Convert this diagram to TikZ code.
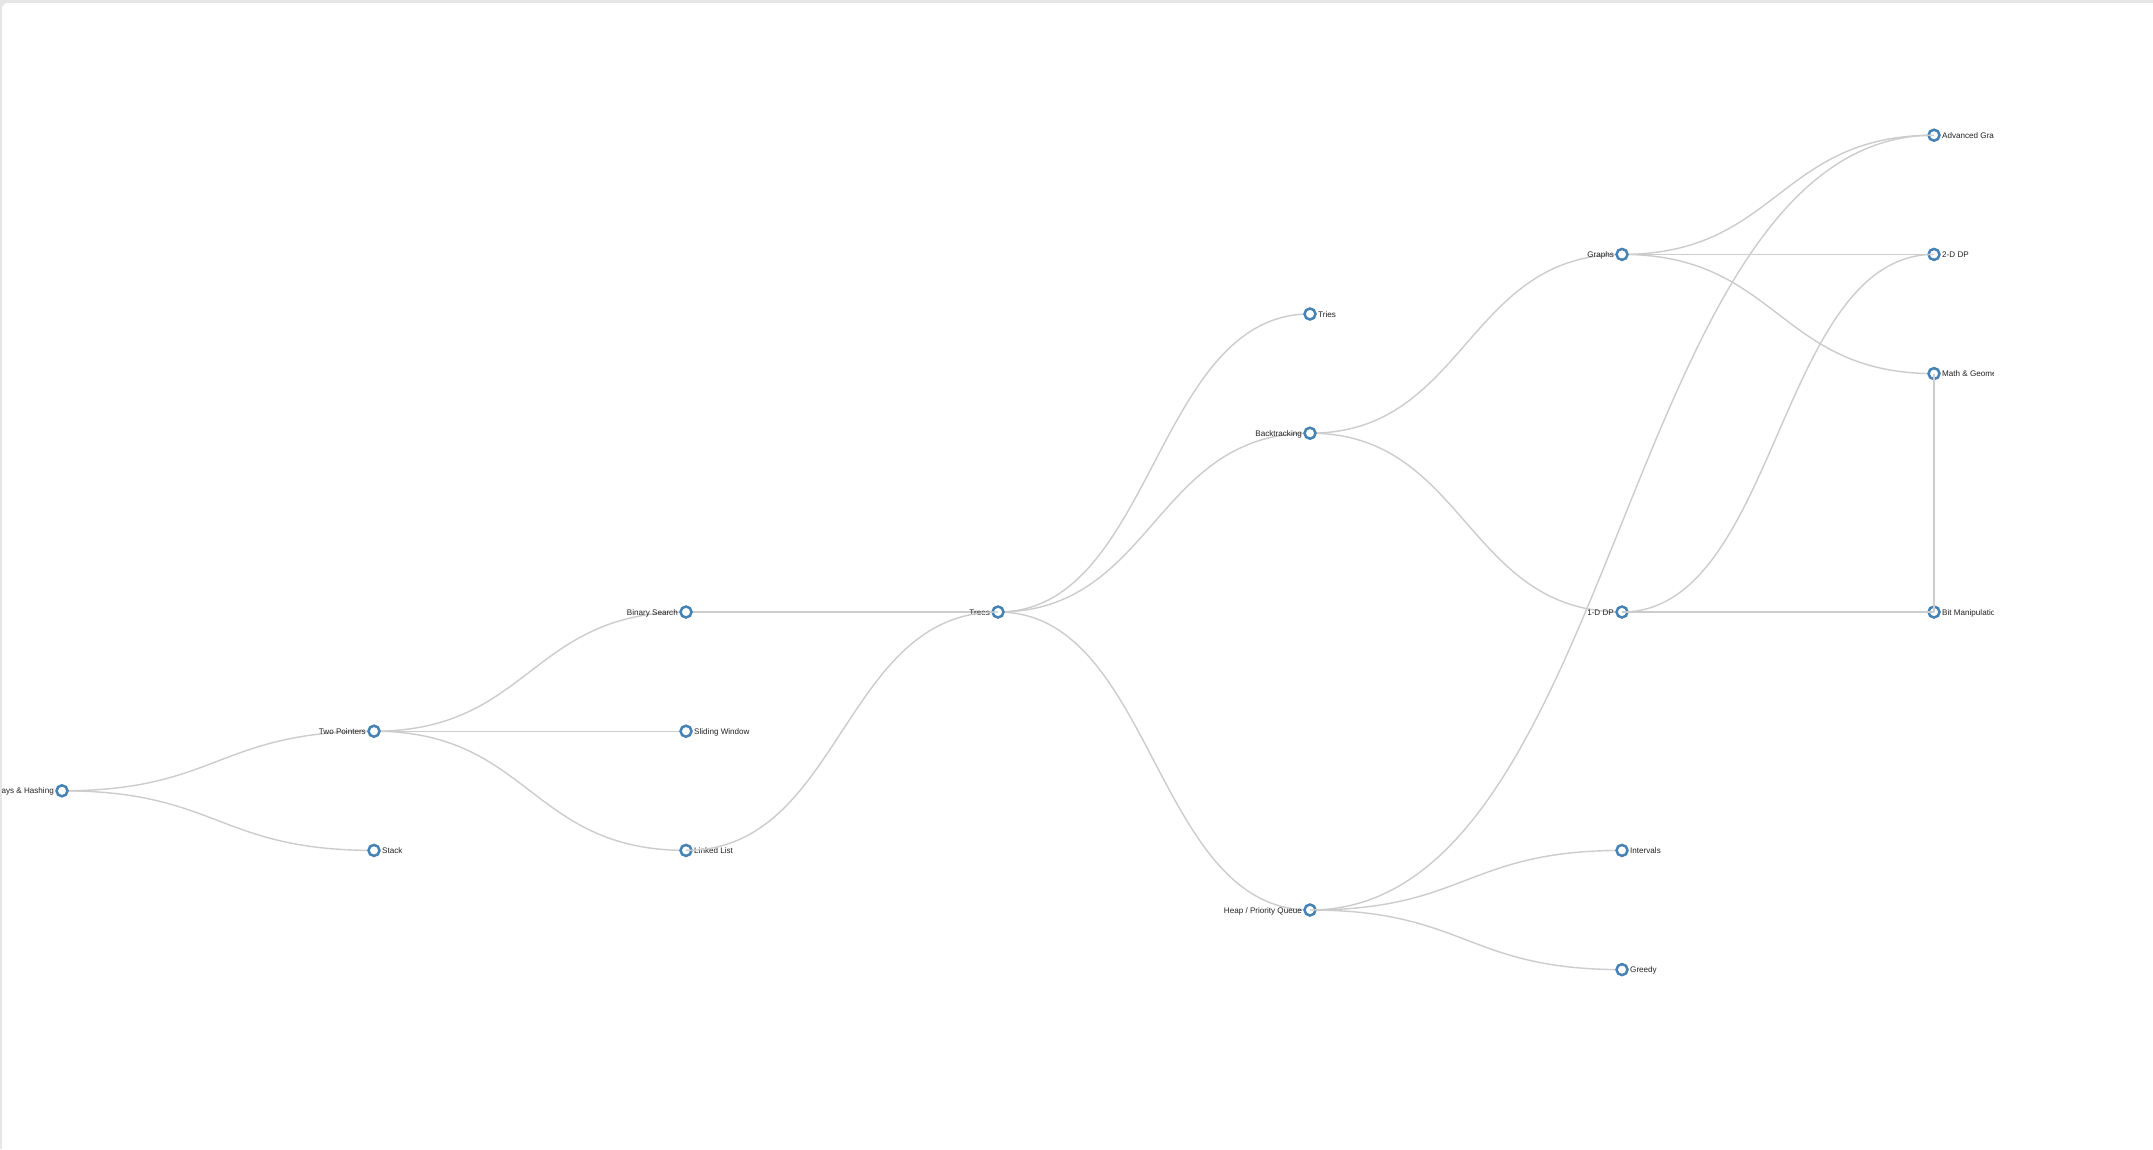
\documentclass[tikz,border=0pt]{standalone}
\usepackage{fontspec}
\setmainfont{Liberation Sans}
\usetikzlibrary{calc}
\definecolor{steel}{RGB}{70,130,180}
\definecolor{linkgray}{RGB}{204,204,204}
\definecolor{frame}{RGB}{230,230,230}
\definecolor{txt}{RGB}{34,34,34}
\tikzset{
  topic/.style={circle,draw=steel,fill=white,line width=2.5pt,minimum size=11pt,inner sep=0pt},
  edge/.style={draw=linkgray,line width=1.4pt},
  rlab/.style={anchor=base west,inner sep=0pt,text=txt,font=\fontsize{8.1}{10}\selectfont},
  llab/.style={anchor=base east,inner sep=0pt,text=txt,font=\fontsize{8.1}{10}\selectfont}
}
\newcommand\lnk[2]{\draw[edge] (#1.center) .. controls ($(#1.center)!0.5!(#1.center-|#2.center)$) and ($(#2.center)!0.5!(#2.center-|#1.center)$) .. (#2.center);}
\begin{document}
\begin{tikzpicture}[x=1pt,y=-1pt]
\useasboundingbox (0,0) rectangle (2153,1149);
\clip (0,0) rectangle (2153,1149);
\fill[frame] (0,0) rectangle (2153,1149);
\fill[white,rounded corners=6pt] (2,3) rectangle (2200,1200);
% node positions
\coordinate (ah) at (62,790.8);
\coordinate (tp) at (374,731.2);
\coordinate (st) at (374,850.4);
\coordinate (bs) at (686,612);
\coordinate (sw) at (686,731.2);
\coordinate (ll) at (686,850.4);
\coordinate (tr) at (998,612);
\coordinate (ti) at (1310,314);
\coordinate (bt) at (1310,433.2);
\coordinate (hp) at (1310,910);
\coordinate (gr) at (1622,254.4);
\coordinate (dpa) at (1622,612);
\coordinate (iv) at (1622,850.4);
\coordinate (gd) at (1622,969.6);
\coordinate (ag) at (1934,135.2);
\coordinate (dpb) at (1934,254.4);
\coordinate (mg) at (1934,373.6);
\coordinate (bm) at (1934,612);
% tree links
\lnk{ah}{tp}
\lnk{ah}{st}
\lnk{tp}{bs}
\lnk{tp}{sw}
\lnk{tp}{ll}
\lnk{bs}{tr}
\lnk{tr}{ti}
\lnk{tr}{bt}
\lnk{tr}{hp}
\lnk{bt}{gr}
\lnk{bt}{dpa}
\lnk{hp}{iv}
\lnk{hp}{gd}
\lnk{gr}{ag}
\lnk{gr}{dpb}
\lnk{gr}{mg}
% circles
\foreach \n in {ah,tp,st,bs,sw,ll,tr,ti,bt,hp,gr,dpa,iv,gd,ag,dpb,mg,bm}
  \node[topic] (c\n) at (\n) {};
% labels
\begin{scope}
\clip (2,3) rectangle (1993,1149);
\node[llab] (tah) at ($(ah)+(-8,3)$) {Arrays \& Hashing};
\node[llab] (ttp) at ($(tp)+(-8,3)$) {Two Pointers};
\node[rlab] (tst) at ($(st)+(8,3)$) {Stack};
\node[llab] (tbs) at ($(bs)+(-8,3)$) {Binary Search};
\node[rlab] (tsw) at ($(sw)+(8,3)$) {Sliding Window};
\node[rlab] (tll) at ($(ll)+(8,3)$) {Linked List};
\node[llab] (ttr) at ($(tr)+(-8,3)$) {Trees};
\node[rlab] (tti) at ($(ti)+(8,3)$) {Tries};
\node[llab] (tbt) at ($(bt)+(-8,3)$) {Backtracking};
\node[llab] (thp) at ($(hp)+(-8,3)$) {Heap / Priority Queue};
\node[llab] (tgr) at ($(gr)+(-8,3)$) {Graphs};
\node[llab] (tdpa) at ($(dpa)+(-8,3)$) {1-D DP};
\node[rlab] (tiv) at ($(iv)+(8,3)$) {Intervals};
\node[rlab] (tgd) at ($(gd)+(8,3)$) {Greedy};
\node[rlab] (tag) at ($(ag)+(8,3)$) {Advanced Graphs};
\node[rlab] (tdpb) at ($(dpb)+(8,3)$) {2-D DP};
\node[rlab] (tmg) at ($(mg)+(8,3)$) {Math \& Geometry};
\node[rlab] (tbm) at ($(bm)+(8,3)$) {Bit Manipulation};
\end{scope}
% extra links drawn over circles
\lnk{ll}{tr}
\lnk{hp}{ag}
\lnk{dpa}{dpb}
\lnk{dpa}{bm}
\lnk{mg}{bm}
\end{tikzpicture}
\end{document}
